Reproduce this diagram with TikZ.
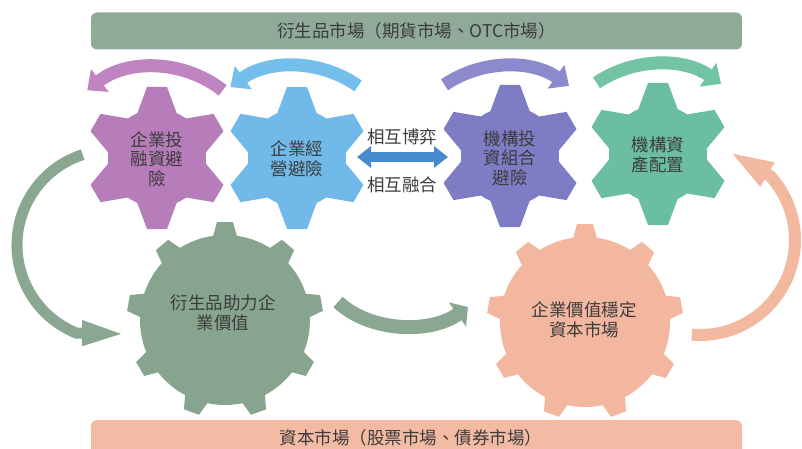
\documentclass[tikz,border=0pt]{standalone}
\usepackage{fontspec}
\setmainfont{Noto Sans CJK TC}
\usetikzlibrary{arrows.meta}

\definecolor{gPurple}{RGB}{183,125,186}
\definecolor{gBlue}{RGB}{112,185,232}
\definecolor{gViolet}{RGB}{126,124,196}
\definecolor{gGreen}{RGB}{107,190,160}
\definecolor{gSage}{RGB}{135,164,143}
\definecolor{gSalmon}{RGB}{243,183,160}
\definecolor{barTop}{RGB}{143,170,152}
\definecolor{barBot}{RGB}{244,187,164}
\definecolor{aPurple}{RGB}{192,133,193}
\definecolor{aBlue}{RGB}{115,190,235}
\definecolor{aViolet}{RGB}{140,138,205}
\definecolor{aGreen}{RGB}{115,195,165}
\definecolor{aSage}{RGB}{138,168,145}
\definecolor{aSalmon}{RGB}{243,185,160}
\definecolor{dBlue}{RGB}{70,140,205}
\definecolor{txt}{RGB}{60,60,60}

\newcommand{\mysmallgear}[3]{%
  \fill[#3] (#1,#2) circle[radius=49];
  \foreach \a in {30,90,...,330} {
    \fill[#3, shift={(#1,#2)}, rotate=\a] (44,-20) -- (71,-10) -- (71,10) -- (44,20) -- cycle;
  }
}
\newcommand{\mybiggear}[3]{%
  \fill[#3] (#1,#2) circle[radius=85];
  \foreach \a in {90,130,...,410} {
    \fill[#3, shift={(#1,#2)}, rotate=\a] (80,-13) -- (98,-8) -- (98,8) -- (80,13) -- cycle;
  }
}

\tikzset{
  geartext/.style={align=center, text=txt, inner sep=0pt, font=\fontsize{17.5}{19.5}\selectfont},
  bartext/.style={rounded corners=6pt, inner sep=0pt, text=txt, font=\fontsize{17.5}{20}\selectfont, minimum width=651, minimum height=37},
  smallarc/.style={line width=13, -{Triangle[width=28,length=16]}},
  bigarrow/.style={line width=12, -{Triangle[width=22,length=45]}},
}

\begin{document}
\begin{tikzpicture}[x=1pt,y=1pt]
\useasboundingbox (0,0) rectangle (802,448);
\clip (0,0) rectangle (802,448);

% bars
\node[bartext, fill=barTop] (topbar) at (416.5,417) {衍生品市場（期貨市場、OTC市場）};
\node[bartext, fill=barBot, minimum height=40, anchor=north] (botbar) at (416.5,28) {};
\node[geartext] (bottext) at (411,10) {資本市場（股票市場、債券市場）};

% small gears
\mysmallgear{157}{290}{gPurple}
\mysmallgear{297}{290}{gBlue}
\mysmallgear{510}{292}{gViolet}
\mysmallgear{658}{294}{gGreen}
% big gears
\mybiggear{225}{128}{gSage}
\mybiggear{585}{126}{gSalmon}

\node[geartext] (g1) at (157,289) {企業投\\融資避\\險};
\node[geartext] (g2) at (297,289) {企業經\\營避險};
\node[geartext] (g3) at (510,290) {機構投\\資組合\\避險};
\node[geartext] (g4) at (658,293) {機構資\\產配置};
\node[geartext] (g5) at (223,135) {衍生品助力企\\業價值};
\node[geartext] (g6) at (584,128) {企業價值穩定\\資本市場};

% arcs above small gears
\draw[smallarc, aPurple] ([shift={(52:110)}]155,271) arc[start angle=52, end angle=128, radius=110];
\draw[smallarc, aBlue] ([shift={(55:110)}]295,272) arc[start angle=55, end angle=126, radius=110];
\draw[smallarc, aViolet] ([shift={(124:110)}]506,272) arc[start angle=124, end angle=55, radius=110];
\draw[smallarc, aGreen] ([shift={(124:110)}]658,274) arc[start angle=124, end angle=55, radius=110];

% double arrow and labels
\coordinate (da1) at (357,291);
\coordinate (da2) at (448,291);
\draw[line width=10, dBlue, {Triangle[width=21,length=14]}-{Triangle[width=21,length=14]}] (da1) -- (da2);
\node[geartext] (l1) at (402,311) {相互博弈};
\node[geartext] (l2) at (402,263) {相互融合};

% big arrows
\coordinate (bl1) at ([shift={(108:95)}]112,203);
\coordinate (bl2) at (127,114);
\draw[bigarrow, aSage, line width=11] (bl1) arc[start angle=108, end angle=248, radius=95] -- (bl2);

\coordinate (m1) at (338,146);
\coordinate (m2) at (468,141);
\draw[line width=14, aSage, -{Triangle[width=29,length=13]}] (m1) .. controls (370,116) and (430,114) .. (m2);

\coordinate (s1) at ([shift={(-95:95)}]700,208);
\coordinate (s2) at (728,297);
\draw[bigarrow, aSalmon, -{Triangle[width=24,length=46]}] (s1) arc[start angle=-95, end angle=42, radius=95] -- (s2);
\end{tikzpicture}
\end{document}
